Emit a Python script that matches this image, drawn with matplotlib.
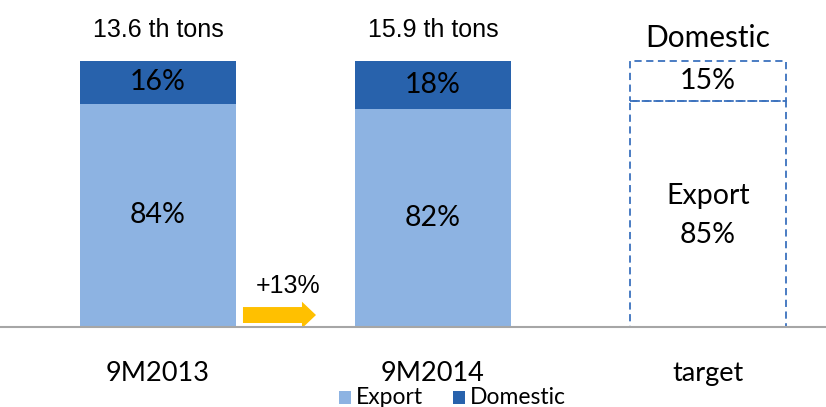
import matplotlib.pyplot as plt
from matplotlib.patches import FancyArrow

categories = ["9M2013", "9M2014", "target"]
export_share = [84, 82, 85]
domestic_share = [16, 18, 15]
totals = ["13.6 th tons", "15.9 th tons", None]
growth_label = "+13%"

c_export = "#8DB3E2"
c_domestic = "#2862AC"
c_dash = "#3C72BE"

fig = plt.figure(figsize=(8.26, 4.07), dpi=100)
ax = fig.add_axes([0, 0, 1, 1])
ax.set_xlim(-0.5745, 2.429)
ax.set_ylim(-30.08, 122.93)
ax.axis("off")

width = 0.567
x = list(range(len(categories)))
big = 20.5

# actual years: filled stacked bars
for i in range(2):
    ax.bar(x[i], export_share[i], width, color=c_export, edgecolor="none")
    ax.bar(x[i], domestic_share[i], width, bottom=export_share[i],
           color=c_domestic, edgecolor="none")
    ax.text(x[i], export_share[i] / 2, f"{export_share[i]}%", ha="center",
            va="center", fontsize=big, family="Lato")
    ax.text(x[i], export_share[i] + domestic_share[i] / 2, f"{domestic_share[i]}%",
            ha="center", va="center", fontsize=big, family="Lato")
    ax.text(x[i], 100 + 11.5, totals[i], ha="center", va="center",
            fontsize=18, family="Liberation Sans")

# target: dashed outline only
t = 2
ax.bar(x[t], export_share[t], width, fill=False, edgecolor=c_dash,
       linestyle=(0, (4, 2.5)), linewidth=1.3)
ax.bar(x[t], domestic_share[t], width, bottom=export_share[t], fill=False,
       edgecolor=c_dash, linestyle=(0, (4, 2.5)), linewidth=1.3)
ax.text(x[t], export_share[t] + domestic_share[t] / 2, f"{domestic_share[t]}%",
        ha="center", va="center", fontsize=big, family="Lato")
ax.text(x[t], 100 + 8.5, "Domestic", ha="center", va="center", fontsize=21.5,
        family="Lato")
ax.text(x[t], export_share[t] / 2 - 0.5, f"Export\n{export_share[t]}%",
        ha="center", va="center", fontsize=big, family="Lato", linespacing=1.6)

# baseline
ax.axhline(0, color="#A6A6A6", linewidth=1.5)

# category labels
for i, c in enumerate(categories):
    ax.text(x[i], -17.5, c, ha="center", va="center", fontsize=19.5, family="Lato")

# growth arrow
ax.add_patch(FancyArrow(0.309, 4.5, 0.2655, 0, width=6.0, head_width=10.0,
                        head_length=0.051, length_includes_head=True,
                        color="#FFC000", linewidth=0))
ax.text(0.473, 15.5, growth_label, ha="center", va="center", fontsize=18,
        family="Liberation Sans")

# legend
legend_items = [("Export", c_export), ("Domestic", c_domestic)]
lx = [0.68, 1.095]
for (name, col), px in zip(legend_items, lx):
    ax.bar(px, 5, 0.045, bottom=-29, color=col, edgecolor="none")
    ax.text(px + 0.04, -26.6, name, ha="left", va="center", fontsize=16.5,
            family="Lato")

fig.savefig("out.png", dpi=100)
